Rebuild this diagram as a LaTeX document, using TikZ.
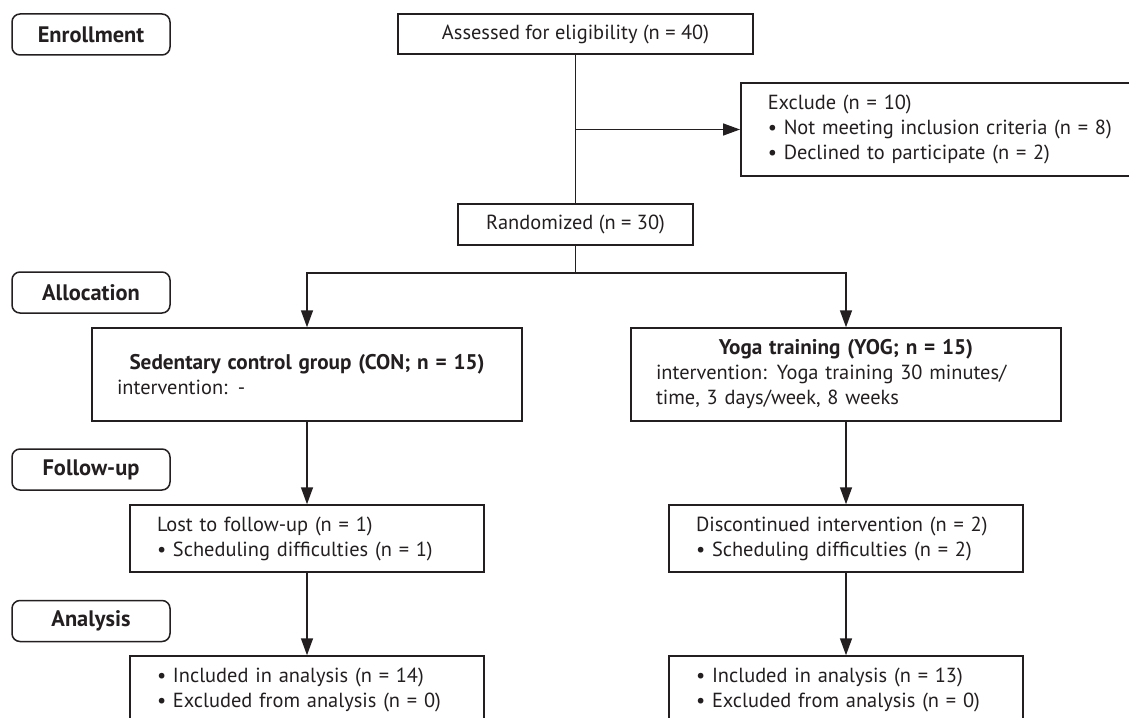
\documentclass[tikz,border=0pt]{standalone}
\usepackage{fontspec}
\setmainfont{PT Sans}
\usepackage{tikz}
\usetikzlibrary{arrows.meta}
\usetikzlibrary{positioning}
\definecolor{ink}{RGB}{35,31,32}
\newcommand{\blt}{\makebox[8pt][l]{\textbullet}}
\newcommand{\ttl}{\fontsize{10.6}{12.5}\selectfont\bfseries}
\tikzset{
  stage/.style={draw=ink, rounded corners=4pt, line width=.75pt, minimum width=79pt,
    minimum height=20.5pt, inner sep=0pt, font=\fontsize{11.2}{12.5}\selectfont\bfseries},
  box/.style={draw=ink, line width=.75pt, inner sep=0pt, align=left,
    font=\fontsize{10.2}{12.5}\selectfont},
  arr/.style={-{Triangle[length=8.5pt,width=6pt]}}
}

\begin{document}
\begin{tikzpicture}[x=.5pt,y=-.5pt,line width=.75pt,draw=ink,text=ink]
\clip (0,0) rectangle (1129,717);
\fill[white] (0,0) rectangle (1129,717);

\node[stage] (enrol) at (91,34.5) {Enrollment};
\node[stage] (alloc) at (91,292.5) {Allocation};
\node[stage] (follow) at (91,469.5) {Follow-up};
\node[stage] (anal) at (91,621) {Analysis};

\node[box, minimum width=177.5pt, minimum height=20pt, align=center] (assess) at (575.5,34)
  {Assessed for eligibility (n = 40)};
\node[box, anchor=west, text width=173pt, inner xsep=13.5pt, minimum height=46.5pt] (excl) at (740,129.5)
  {Exclude (n = 10)\\ \blt Not meeting inclusion criteria (n = 8)\\ \blt Declined to participate (n = 2)};
\node[box, minimum width=117.5pt, minimum height=20.5pt, align=center] (rand) at (575.5,224.5)
  {Randomized (n = 30)};

\node[box, text width=190pt, inner xsep=12.5pt, minimum height=46.5pt] (con) at (307,374.5)
  {{\centering\ttl Sedentary control group (CON; n = 15)\par}intervention: -};
\node[box, text width=190pt, inner xsep=12.5pt, minimum height=46.5pt] (yog) at (846,374.5)
  {{\centering\ttl Yoga training (YOG; n = 15)\par}intervention: Yoga training 30 minutes/\\ time, 3 days/week, 8 weeks};

\node[box, text width=150pt, inner xsep=13.5pt, minimum height=33.5pt] (lost) at (307,538.5)
  {Lost to follow-up (n = 1)\\ \blt Scheduling difficulties (n = 1)};
\node[box, text width=150pt, inner xsep=13.5pt, minimum height=33.5pt] (disc) at (846,538.5)
  {Discontinued intervention (n = 2)\\ \blt Scheduling difficulties (n = 2)};

\node[box, text width=150pt, inner xsep=13.5pt, minimum height=33.5pt] (inclcon) at (307,689.5)
  {\blt Included in analysis (n = 14)\\ \blt Excluded from analysis (n = 0)};
\node[box, text width=150pt, inner xsep=13.5pt, minimum height=33.5pt] (inclyog) at (846,689.5)
  {\blt Included in analysis (n = 13)\\ \blt Excluded from analysis (n = 0)};

\coordinate (branch) at (assess.south |- excl.west);
\coordinate (split) at (575.5,273);
\draw (assess) -- (rand);
\draw[arr] (branch) -- (excl);
\draw (rand) -- (split);
\draw[arr] (split) -| (con);
\draw[arr] (split) -| (yog);
\draw[arr] (con) -- (lost);
\draw[arr] (yog) -- (disc);
\draw[arr] (lost) -- (inclcon);
\draw[arr] (disc) -- (inclyog);
\end{tikzpicture}
\end{document}
